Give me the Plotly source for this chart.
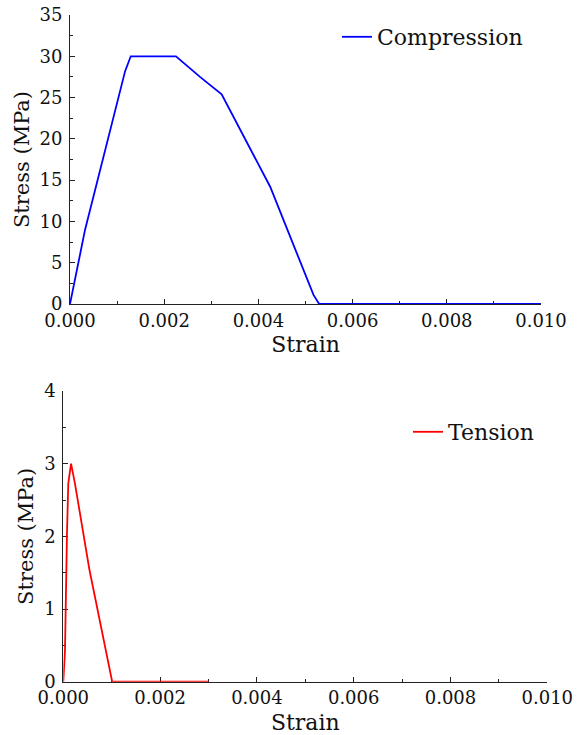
import plotly.graph_objects as go

# Compression curve
comp_strain = [0.0, 0.00032, 0.00117, 0.00129, 0.00225, 0.00276, 0.00322, 0.00425, 0.00517, 0.00529, 0.010]
comp_stress = [0.0, 9.0, 28.2, 30.0, 30.0, 27.5, 25.4, 14.2, 1.1, 0.0, 0.0]

# Tension curve
ten_strain = [0.0, 0.000035, 0.000076, 0.000103, 0.00016, 0.00024, 0.00054, 0.00101, 0.0030]
ten_stress = [0.0, 0.43, 2.04, 2.73, 3.0, 2.73, 1.54, 0.0, 0.0]

comp_yticks = [0, 5, 10, 15, 20, 25, 30, 35]
ten_yticks = [0, 1, 2, 3, 4]
xticks = [0.000, 0.002, 0.004, 0.006, 0.008, 0.010]

W, H = 579, 735


def fx(px):
    return px / W


def fy(py):
    return 1 - py / H


TICKFONT = dict(family="DejaVu Serif", size=18, color="#111111")
TFONT = "DejaVu Serif"

fig = go.Figure()
fig.add_trace(go.Scatter(x=comp_strain, y=comp_stress, mode="lines", name="Compression",
                         line=dict(color="#0000ff", width=1.8), xaxis="x", yaxis="y",
                         legend="legend"))
fig.add_trace(go.Scatter(x=ten_strain, y=ten_stress, mode="lines", name="Tension",
                         line=dict(color="#ff0000", width=1.8), xaxis="x2", yaxis="y2",
                         legend="legend2"))


def xax(domain, anchor, standoff):
    return dict(domain=domain, anchor=anchor, range=[0, 0.010], tickvals=xticks,
                tickformat=".3f", ticks="inside", ticklen=5, tickwidth=1, tickcolor="#222",
                showline=True, linecolor="#222", linewidth=1, mirror=False, automargin=False,
                showgrid=False, zeroline=False, tickfont=TICKFONT, layer="below traces",
                ticklabeloverflow="allow",
                minor=dict(ticks="inside", ticklen=3, dtick=0.001, tickcolor="#222", showgrid=False),
                title=dict(text="Strain", font=dict(family=TFONT, size=22, color="#111"),
                           standoff=standoff))


def yax(domain, anchor, rng, vals, mdt):
    return dict(domain=domain, anchor=anchor, range=rng, tickvals=vals,
                ticks="inside", ticklen=5, tickwidth=1, tickcolor="#222",
                showline=True, linecolor="#222", linewidth=1, mirror=False, automargin=False,
                showgrid=False, zeroline=False, tickfont=TICKFONT, layer="below traces",
                ticklabelstandoff=3, ticklabeloverflow="allow",
                minor=dict(ticks="inside", ticklen=3, dtick=mdt, tickcolor="#222", showgrid=False),
                title=dict(text="Stress (MPa)", font=dict(family=TFONT, size=21, color="#111"),
                           standoff=4))


fig.update_layout(
    width=W, height=H,
    margin=dict(l=0, r=0, t=0, b=0),
    paper_bgcolor="white", plot_bgcolor="white",
    xaxis=xax([fx(70), fx(541)], "y", 7),
    yaxis=yax([fy(304), fy(15)], "x", [0, 35], comp_yticks, 2.5),
    xaxis2=xax([fx(63.3), fx(547.3)], "y2", 7),
    yaxis2=yax([fy(681.7), fy(391)], "x2", [0, 4], ten_yticks, 0.5),
    legend=dict(x=fx(337), y=fy(37), xanchor="left", yanchor="middle",
                bgcolor="rgba(0,0,0,0)", borderwidth=0,
                font=dict(family=TFONT, size=22, color="#111")),
    legend2=dict(x=fx(408), y=fy(432), xanchor="left", yanchor="middle",
                 bgcolor="rgba(0,0,0,0)", borderwidth=0,
                 font=dict(family=TFONT, size=22, color="#111")),
    showlegend=True,
)

fig.write_html("out.html",
               config={"displayModeBar": False},
               post_script="document.body.style.margin='0';document.body.style.overflow='hidden';")
